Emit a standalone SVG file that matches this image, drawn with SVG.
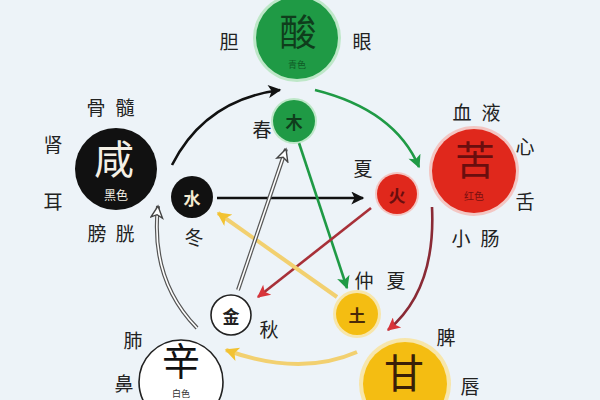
<svg xmlns="http://www.w3.org/2000/svg" width="600" height="400" viewBox="0 0 600 400">
<style>
.lbl{font-family:"Noto Sans CJK SC","Noto Sans CJK TC",sans-serif;font-size:19px;fill:#222;text-anchor:middle;dominant-baseline:central}
.big{font-family:"Noto Sans CJK SC","Noto Sans CJK TC",sans-serif;font-size:40px;text-anchor:middle;dominant-baseline:central}
.sub{font-family:"Noto Sans CJK SC","Noto Sans CJK TC",sans-serif;font-size:10px;text-anchor:middle;dominant-baseline:central}
.sm{font-family:"Noto Sans CJK SC","Noto Sans CJK TC",sans-serif;font-size:17px;font-weight:bold;text-anchor:middle;dominant-baseline:central}
.ln{fill:none}
</style>
<defs>
<marker id="mBlack" viewBox="0 0 10 10" refX="9" refY="5" markerWidth="15" markerHeight="13" markerUnits="userSpaceOnUse" orient="auto"><path d="M0,0 L10,5 L0,10 L2.5,5 z" fill="#111"/></marker>
<marker id="mGreen" viewBox="0 0 10 10" refX="9" refY="5" markerWidth="15" markerHeight="13" markerUnits="userSpaceOnUse" orient="auto"><path d="M0,0 L10,5 L0,10 L2.5,5 z" fill="#1f9a45"/></marker>
<marker id="mRed" viewBox="0 0 10 10" refX="9" refY="5" markerWidth="15" markerHeight="13" markerUnits="userSpaceOnUse" orient="auto"><path d="M0,0 L10,5 L0,10 L2.5,5 z" fill="#d8343a"/></marker>
<marker id="mYellow" viewBox="0 0 10 10" refX="9" refY="5" markerWidth="16" markerHeight="14" markerUnits="userSpaceOnUse" orient="auto"><path d="M0,0 L10,5 L0,10 L2.5,5 z" fill="#f2c232"/></marker>
<marker id="mHollow" viewBox="0 0 12 12" refX="11" refY="6" markerWidth="16" markerHeight="14" markerUnits="userSpaceOnUse" orient="auto"><path d="M1,1 L11,6 L1,11 L3.5,6 z" fill="#fff" stroke="#444" stroke-width="1.2"/></marker>
</defs>
<rect width="600" height="400" fill="#edf3f8"/>

<g id="connectors">
<!-- outer generating cycle -->
<path class="ln" d="M172,165 Q205,100 280,90" stroke="#111" stroke-width="2.6" marker-end="url(#mBlack)"/>
<path class="ln" d="M315,90 Q395,110 419,167" stroke="#1f9a45" stroke-width="2.6" marker-end="url(#mGreen)"/>
<path class="ln" d="M432,207 Q436,290 388,330" stroke="#8a2a35" stroke-width="2.6" marker-end="url(#mRed)"/>
<path class="ln" d="M357,352 Q300,377 226,350" stroke="#f2d070" stroke-width="4" marker-end="url(#mYellow)"/>
<path class="ln" d="M197,328 Q150,280 158,206" stroke="#555" stroke-width="4"/>
<path class="ln" d="M197,328 Q150,280 158,206" stroke="#fff" stroke-width="1.6" marker-end="url(#mHollow)"/>
<!-- inner star -->
<path class="ln" d="M217,198 L363,198" stroke="#111" stroke-width="2.6" marker-end="url(#mBlack)"/>
<path class="ln" d="M299,143 L347,288" stroke="#1f9a45" stroke-width="2.6" marker-end="url(#mGreen)"/>
<path class="ln" d="M371,208 L258,297" stroke="#a83038" stroke-width="2.6" marker-end="url(#mRed)"/>
<path class="ln" d="M337,297 L218,213" stroke="#f2d070" stroke-width="4" marker-end="url(#mYellow)"/>
<path class="ln" d="M238,290 L286,149" stroke="#555" stroke-width="4"/>
<path class="ln" d="M238,290 L286,149" stroke="#fff" stroke-width="1.6" marker-end="url(#mHollow)"/>
</g>

<g id="node-suan">
<circle cx="297" cy="38" r="44" fill="#9fe0a8" opacity="0.6"/>
<circle cx="297" cy="38" r="41" fill="#1f9a45"/>
<text class="big" x="298" y="30" fill="#0f3d1c" style="font-size:37px">酸</text>
<text class="sub" x="297" y="64" fill="#0f5a26" style="font-size:9px">青色</text>
<text class="lbl" x="229" y="40">胆</text>
<text class="lbl" x="362" y="40">眼</text>
</g>

<g id="node-mu">
<circle cx="294" cy="121" r="23" fill="#9fe0a8" opacity="0.6"/>
<circle cx="294" cy="121" r="21" fill="#1f9a45"/>
<text class="sm" x="294" y="121" fill="#0f3d1c">木</text>
<text class="lbl" x="262" y="128">春</text>
</g>

<g id="node-ku">
<circle cx="474" cy="171" r="45" fill="#f7a8a0" opacity="0.6"/>
<circle cx="474" cy="171" r="42" fill="#e0281c"/>
<text class="big" x="475" y="158" fill="#6a0e0e">苦</text>
<text class="sub" x="474" y="195" fill="#7a1010">红色</text>
<text class="lbl" x="462" y="111">血</text>
<text class="lbl" x="491" y="111">液</text>
<text class="lbl" x="525" y="145">心</text>
<text class="lbl" x="525" y="200">舌</text>
<text class="lbl" x="461" y="237">小</text>
<text class="lbl" x="490" y="237">肠</text>
</g>

<g id="node-huo">
<circle cx="397" cy="194" r="22" fill="#f7a8a0" opacity="0.6"/>
<circle cx="397" cy="194" r="20" fill="#e0281c"/>
<text class="sm" x="397" y="194" fill="#6a0e0e">火</text>
<text class="lbl" x="363" y="167">夏</text>
</g>

<g id="node-xian">
<circle cx="116" cy="169" r="41" fill="#111"/>
<text class="big" x="114" y="157" fill="#f4f0e6">咸</text>
<text class="sub" x="116" y="194" fill="#f4f0e6" style="font-size:12px">黑色</text>
<text class="lbl" x="96" y="106">骨</text>
<text class="lbl" x="125" y="106">髓</text>
<text class="lbl" x="53" y="143">肾</text>
<text class="lbl" x="53" y="200">耳</text>
<text class="lbl" x="97" y="232">膀</text>
<text class="lbl" x="125" y="232">胱</text>
</g>

<g id="node-shui">
<circle cx="192" cy="197" r="21" fill="#111"/>
<text class="sm" x="192" y="197" fill="#f4ead0">水</text>
<text class="lbl" x="194" y="236">冬</text>
</g>

<g id="node-jin">
<circle cx="231" cy="315" r="20" fill="#fff" stroke="#222" stroke-width="1.6"/>
<text class="sm" x="231" y="315" fill="#222">金</text>
<text class="lbl" x="269" y="328">秋</text>
</g>

<g id="node-tu">
<circle cx="357" cy="314" r="24" fill="#fbe08a" opacity="0.7"/>
<circle cx="357" cy="314" r="21" fill="#f4bd12"/>
<text class="sm" x="357" y="314" fill="#4a2a08">土</text>
<text class="lbl" x="364" y="279">仲</text>
<text class="lbl" x="396" y="279">夏</text>
</g>

<g id="node-gan">
<circle cx="405" cy="384" r="46" fill="#fbe08a" opacity="0.7"/>
<circle cx="405" cy="384" r="42" fill="#f4bd12"/>
<text class="big" x="404" y="371" fill="#3a2008">甘</text>
<text class="lbl" x="446" y="336">脾</text>
<text class="lbl" x="470" y="385">唇</text>
</g>

<g id="node-xin">
<circle cx="181" cy="382" r="42" fill="#fff" stroke="#222" stroke-width="1.6"/>
<text class="big" x="181" y="358" fill="#111" style="font-size:38px">辛</text>
<text class="sub" x="181" y="393" fill="#333" style="font-size:9px">白色</text>
<text class="lbl" x="133" y="339">肺</text>
<text class="lbl" x="124" y="382">鼻</text>
</g>
</svg>
